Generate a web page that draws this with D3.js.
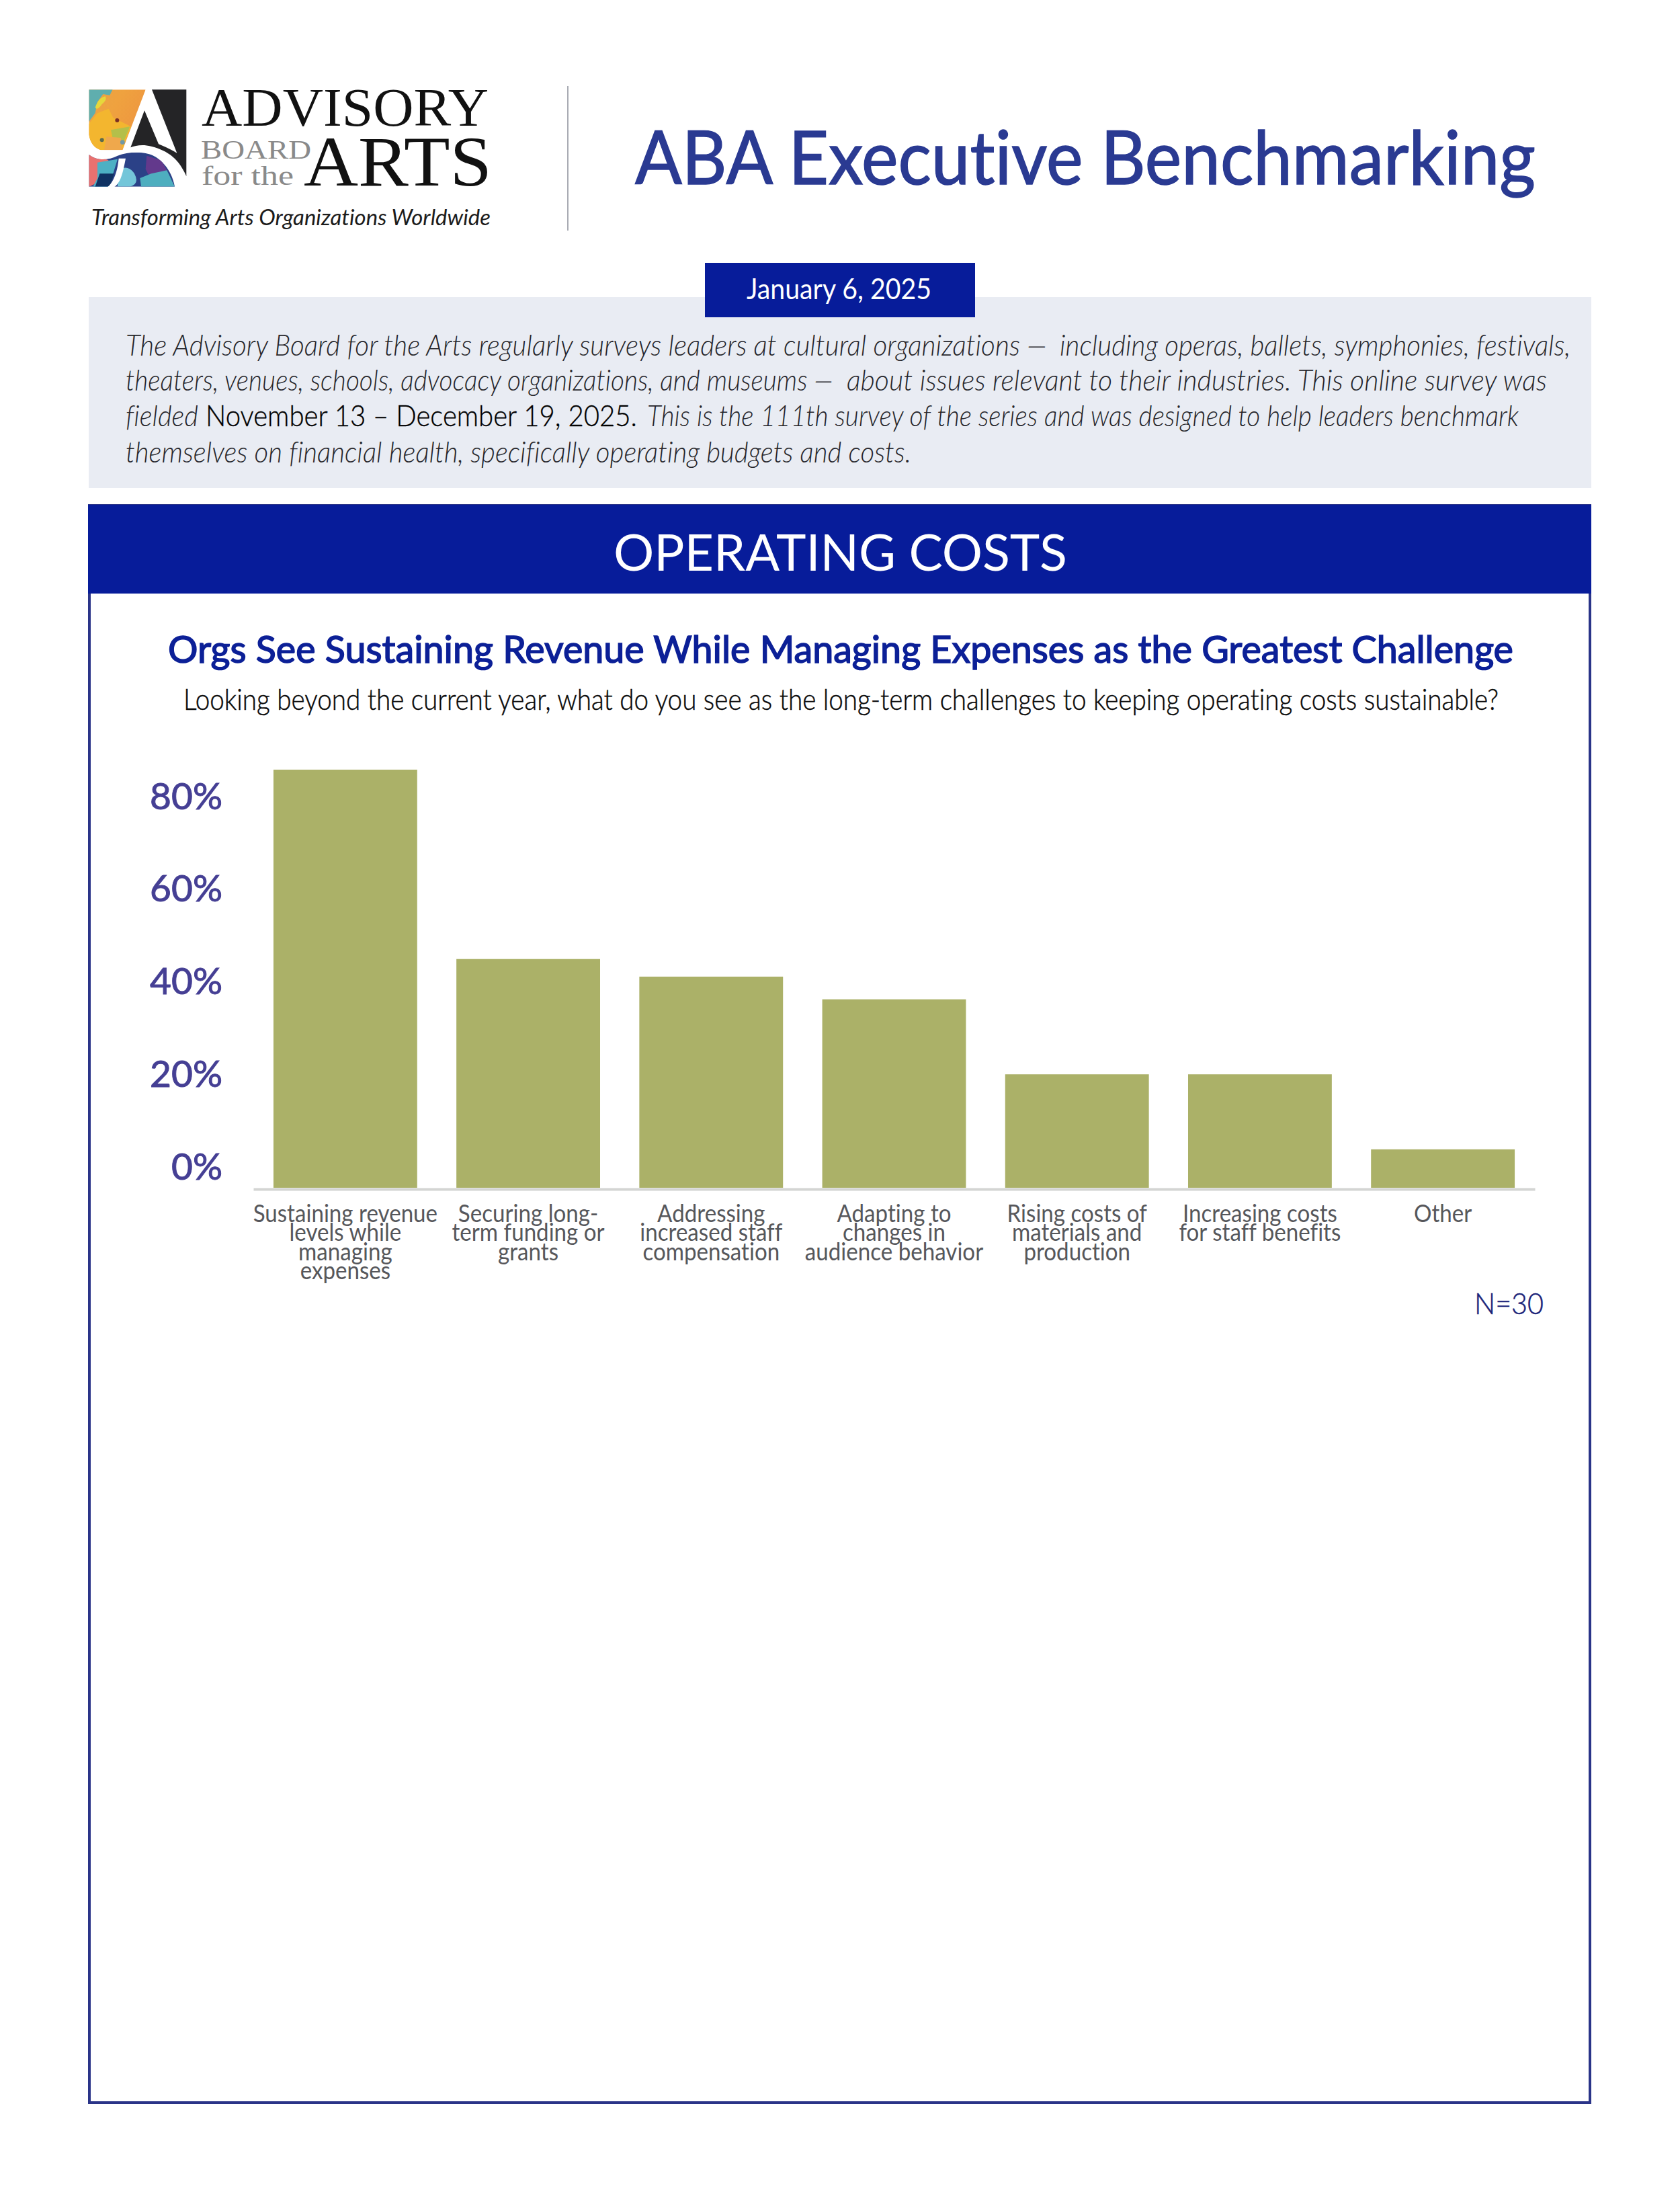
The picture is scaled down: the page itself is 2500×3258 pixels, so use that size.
<!DOCTYPE html>
<html><head><meta charset="utf-8">
<script src="https://cdn.jsdelivr.net/npm/d3@7/dist/d3.min.js"></script>
<style>html,body{margin:0;padding:0;background:#fff}svg{display:block}text{font-family:Lato,"Noto Sans",sans-serif;font-variant-ligatures:none}</style>
</head><body><svg id="c" width="2500" height="3258" viewBox="0 0 2500 3258"></svg>
<script>
// ---------- data ----------
const categories = [
  "Sustaining revenue|levels while|managing|expenses",
  "Securing long-|term funding or|grants",
  "Addressing|increased staff|compensation",
  "Adapting to|changes in|audience behavior",
  "Rising costs of|materials and|production",
  "Increasing costs|for staff benefits",
  "Other"
];
const values = [90.3, 49.4, 45.6, 40.7, 24.5, 24.5, 8.3];
const yTicks = [0, 20, 40, 60, 80];
const sampleNote = "N=30";

const svg = d3.select("#c");
const BLUE = "#071C9A", NAVY = "#2A3A92", FRAME = "#2A3488";

function put(txt, x0, x1, y, size, fill, opt) {
  opt = opt || {};
  const t = (opt.parent || svg).append("text").attr("x", x0).attr("y", y)
    .attr("font-size", size).attr("fill", fill).text(txt)
    .attr("font-weight", opt.weight || 400)
    .attr("font-style", opt.italic ? "italic" : "normal")
    .attr("textLength", x1 - x0).attr("lengthAdjust", "spacingAndGlyphs");
  if (opt.family) t.style("font-family", opt.family);
  if (opt.sw) t.attr("stroke", fill).attr("stroke-width", opt.sw);
  return t;
}
const rect = (x, y, w, h, f) => svg.append("rect").attr("x", x).attr("y", y).attr("width", w).attr("height", h).attr("fill", f);

// ---------- page furniture ----------
rect(132, 442, 2236, 284, "#E9ECF3");
rect(1049, 391, 402, 81, BLUE);
put("January 6, 2025", 1111, 1386, 445, 42, "#fff");
svg.append("rect").attr("x", 133).attr("y", 752).attr("width", 2233).attr("height", 2376)
   .attr("fill", "#fff").attr("stroke", FRAME).attr("stroke-width", 4);
rect(131, 751, 2237, 132, BLUE);
put("OPERATING COSTS", 913, 1588, 849, 75, "#fff");
svg.append("line").attr("x1", 845).attr("x2", 845).attr("y1", 128).attr("y2", 343).attr("stroke", "#A9ACB4").attr("stroke-width", 2);

put("ABA Executive Benchmarking", 945, 2285, 274, 110, NAVY, {sw: 1.5});

// ---------- logo ----------
const logo = svg.append("g").attr("transform", "translate(125,125) scale(0.3333)");
const defs = svg.append("defs");
const g1 = defs.append("linearGradient").attr("id", "lg1").attr("x1", 0).attr("y1", 0).attr("x2", 1).attr("y2", 0.6);
[[0, "#E9A346"], [0.45, "#EFA23F"], [1, "#EE9440"]].forEach(s => g1.append("stop").attr("offset", s[0]).attr("stop-color", s[1]));
defs.append("clipPath").attr("id", "cpA").append("path").attr("d", "M22 25 L275 25 L172 295 L75 295 Q30 280 22 225 Z");
const SHAPE2 = "M22 315 C60 345 110 340 150 320 C200 300 270 300 310 320 C360 345 395 400 405 458 L22 458 Z";
defs.append("clipPath").attr("id", "cpB").append("path").attr("d", SHAPE2);
const a = logo.append("g").attr("clip-path", "url(#cpA)");
a.append("rect").attr("x", 20).attr("y", 20).attr("width", 260).attr("height", 280).attr("fill", "url(#lg1)");
a.append("path").attr("d", "M20 20 L130 20 L115 50 L85 45 L60 80 L50 130 L20 170 Z").attr("fill", "#5FAEAE");
a.append("path").attr("d", "M50 105 Q65 60 95 55 Q105 70 80 90 Q60 120 50 105 Z").attr("fill", "#E6D83C");
a.append("path").attr("d", "M20 180 L60 130 L110 110 L130 150 L170 170 L210 190 L170 295 L20 295 Z").attr("fill", "#F3B62F");
a.append("path").attr("d", "M120 205 L205 190 L172 270 L130 250 Z").attr("fill", "#B4BF4A");
a.append("path").attr("d", "M100 235 L165 240 L170 295 L90 295 Z").attr("fill", "#EFA84C");
a.append("circle").attr("cx", 172).attr("cy", 260).attr("r", 10).attr("fill", "#6F98A8");
a.append("circle").attr("cx", 148).attr("cy", 162).attr("r", 9).attr("fill", "#7A2F24");
a.append("circle").attr("cx", 80).attr("cy", 250).attr("r", 9).attr("fill", "#5C6B4C");
logo.append("path").attr("d", "M303 25 L457 25 L457 412 C430 350 390 300 300 278 C260 268 230 275 208 283 L270 118 L333 268 Q375 285 415 308 Z").attr("fill", "#242426");
const b = logo.append("g").attr("clip-path", "url(#cpB)");
b.append("rect").attr("x", 20).attr("y", 295).attr("width", 400).attr("height", 170).attr("fill", "#2B4187");
b.append("path").attr("d", "M20 310 L110 340 L70 380 L60 440 L20 460 Z").attr("fill", "#E9716F");
b.append("path").attr("d", "M60 350 L150 335 L130 400 L110 458 L40 458 L60 420 Z").attr("fill", "#4DB0C4");
b.append("path").attr("d", "M70 400 L135 400 L115 458 L50 458 Z").attr("fill", "#103263");
b.append("path").attr("d", "M160 380 Q200 360 225 400 Q250 445 205 458 L150 458 Q150 410 160 380 Z").attr("fill", "#74C6D9");
b.append("path").attr("d", "M280 320 L345 340 L370 385 L300 430 L275 380 Z").attr("fill", "#63398C");
b.append("path").attr("d", "M250 420 L300 400 L370 385 L405 458 L255 458 Z").attr("fill", "#4EAEBF");
logo.append("path").attr("d", "M155 332 L186 332 C175 390 165 440 135 460 L105 460 C135 435 150 385 155 332 Z").attr("fill", "#fff");

const SERIF = '"Liberation Serif",serif';
put("ADVISORY", 300, 727, 187, 80, "#111", {family: SERIF});
put("BOARD", 299, 463, 236, 41, "#8A8A8A", {family: SERIF});
put("for the", 300, 437, 275, 41, "#8A8A8A", {family: SERIF});
put("ARTS", 452, 732, 276, 106, "#111", {family: SERIF});
put("Transforming Arts Organizations Worldwide", 136, 730, 335, 33, "#1c1c1c", {italic: true});

// ---------- intro paragraph ----------
const P = {weight: 300, italic: true};
const PC = "#26262b";
put("The Advisory Board for the Arts regularly surveys leaders at cultural organizations —", 187, 1558, 529, 44, PC, P);
put("including operas, ballets, symphonies, festivals,", 1577, 2337, 529, 44, PC, P);
put("theaters, venues, schools, advocacy organizations, and museums —", 187, 1240, 581, 44, PC, P);
put("about issues relevant to their industries. This online survey was", 1260, 2302, 581, 44, PC, P);
put("fielded", 187, 295, 634, 44, PC, P);
put("November 13 – December 19, 2025.", 306, 948, 634, 44, "#000", {weight: 300, sw: 0.4});
put("This is the 111th survey of the series and was designed to help leaders benchmark", 963, 2260, 634, 44, PC, P);
put("themselves on financial health, specifically operating budgets and costs.", 187, 1356, 688, 44, PC, P);

// ---------- chart heading ----------
put("Orgs See Sustaining Revenue While Managing Expenses as the Greatest Challenge", 250, 2252, 986, 57, "#0C2097", {sw: 1.6});
put("Looking beyond the current year, what do you see as the long-term challenges to keeping operating costs sustainable?", 273, 2230, 1056, 43, "#0a0a0a", {weight: 300, sw: 0.5});

// ---------- chart ----------
const x = d3.scaleBand().domain(categories).range([377, 2284]).paddingInner(0.2144).paddingOuter(0.11);
const y = d3.scaleLinear().domain([0, 90.3]).range([1767, 1145]);

svg.append("g").selectAll("rect").data(categories).join("rect")
  .attr("x", d => x(d)).attr("width", x.bandwidth())
  .attr("y", (d, i) => y(values[i])).attr("height", (d, i) => y(0) - y(values[i]))
  .attr("fill", "#ABB168");

const yAxis = svg.append("g").attr("transform", "translate(331,-32)")
  .call(d3.axisLeft(y).tickValues(yTicks).tickFormat(d => d + "%").tickSize(0).tickPadding(0));
yAxis.select(".domain").remove();
yAxis.selectAll("text").attr("font-size", 55).attr("fill", "#453F94").attr("font-weight", 400)
  .attr("stroke", "#453F94").attr("stroke-width", 1).style("font-family", "Lato").attr("dy", "0.35em");

const xAxis = svg.append("g").attr("transform", "translate(0,1769)")
  .call(d3.axisBottom(x).tickSize(0).tickFormat(""));
xAxis.select(".domain").attr("stroke", "#D4D5D3").attr("stroke-width", 4);
xAxis.selectAll(".tick text").remove();
const LABEL_SQUEEZE = 0.92;
xAxis.selectAll(".tick").each(function (d) {
  const g = d3.select(this);
  d.split("|").forEach((line, i) => {
    const t = g.append("text").attr("text-anchor", "middle").attr("y", 49 + i * 28.4)
      .attr("font-size", 36).attr("fill", "#56575B").attr("font-weight", 400).text(line);
    const w = t.node().getComputedTextLength();
    t.attr("textLength", w * LABEL_SQUEEZE).attr("lengthAdjust", "spacingAndGlyphs");
  });
});

put(sampleNote, 2198 - 4, 2297, 1955, 44, "#1A2379", {weight: 300, sw: 0.5});
</script></body></html>
